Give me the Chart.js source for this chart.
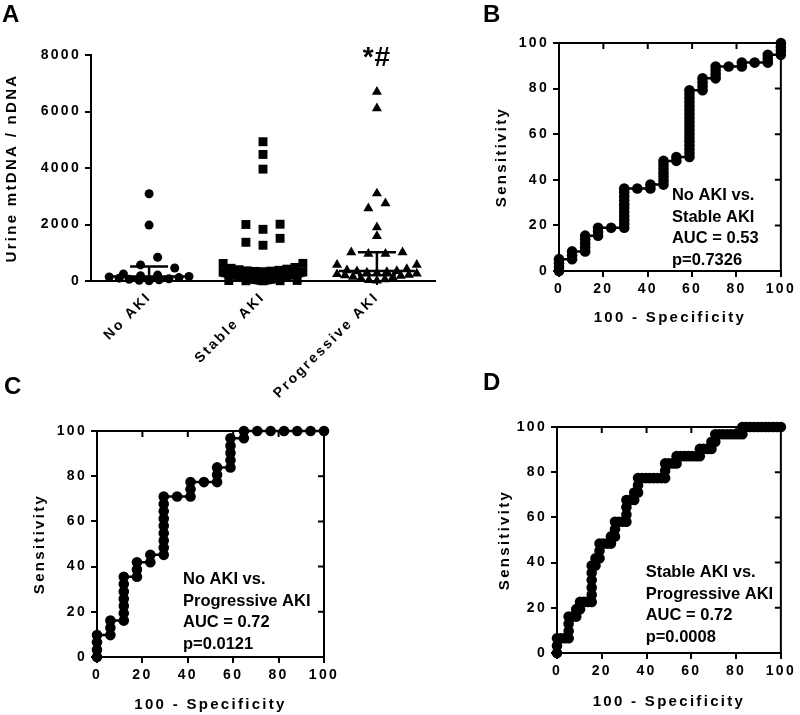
<!DOCTYPE html>
<html>
<head>
<meta charset="utf-8">
<script src="https://cdn.jsdelivr.net/npm/chart.js@4.4.1/dist/chart.umd.min.js"></script>
<style>
html, body { margin: 0; padding: 0; background: #fff; }
#wrap { position: relative; width: 800px; height: 715px; overflow: hidden; }
canvas { position: absolute; }
.lbl { position: absolute; font: bold 24px 'Liberation Sans', Arial, sans-serif; color: #000; line-height: 1; }
</style>
</head>
<body>
<div id="wrap">
  <canvas id="panelA" width="440" height="420" style="left:0;top:0"></canvas>
  <canvas id="panelB" width="360" height="330" style="left:440px;top:0"></canvas>
  <canvas id="panelC" width="400" height="325" style="left:0;top:390px"></canvas>
  <canvas id="panelD" width="400" height="325" style="left:400px;top:390px"></canvas>
  <div class="lbl" style="left:2px;top:2px">A</div>
  <div class="lbl" style="left:483px;top:2px">B</div>
  <div class="lbl" style="left:4px;top:374px">C</div>
  <div class="lbl" style="left:483px;top:370px">D</div>
</div>
<script>
// ── Data: panel A (urine mtDNA / nDNA per patient) ─────────────
const groupLabels = ['No AKI', 'Stable AKI', 'Progressive AKI'];
const noAki = [3090, 1980, 840, 570, 460, 250, 210, 190, 160, 140, 120, 100, 80, 60, 40, 25, 10];
const stableAki = [4930, 4480, 3960, 2010, 2000, 1830, 1510, 1370, 1265, 625, 620,
  480, 450, 420, 400, 380, 360, 350, 340, 330, 320, 310, 300, 290, 280, 270, 260, 250, 240,
  230, 220, 210, 200, 190, 180, 170, 160, 150, 140, 130, 120, 110, 100, 90, 80, 70, 60, 50,
  45, 40, 35, 30, 25, 20, 15, 10, 8, 5];
const progressiveAki = [6700, 6110, 3100, 2750, 2570, 1900, 1590, 1015, 1015, 960, 960, 570, 570,
  420, 380, 350, 340, 320, 300, 280, 260, 240, 220, 200, 180, 150, 120, 90, 60, 30, 10];
const yTicksA = [0, 2000, 4000, 6000, 8000];

// ── Data: ROC curves [100 - specificity, sensitivity] ──────────
const rocTicks = [0, 20, 40, 60, 80, 100];
const rocB = [
  [0, 0], [0, 1.7], [0, 3.4], [0, 5.2],
  [5.9, 5.2], [5.9, 6.9], [5.9, 8.6],
  [11.8, 8.6], [11.8, 10.3], [11.8, 12.1], [11.8, 13.8], [11.8, 15.5],
  [17.6, 15.5], [17.6, 17.2], [17.6, 19.0],
  [23.5, 19.0],
  [29.4, 19.0], [29.4, 20.7], [29.4, 22.4], [29.4, 24.1], [29.4, 25.9], [29.4, 27.6],
  [29.4, 29.3], [29.4, 31.0], [29.4, 32.8], [29.4, 34.5], [29.4, 36.2],
  [35.3, 36.2],
  [41.2, 36.2], [41.2, 37.9],
  [47.1, 37.9], [47.1, 39.7], [47.1, 41.4], [47.1, 43.1], [47.1, 44.8], [47.1, 46.6], [47.1, 48.3],
  [52.9, 48.3], [52.9, 50.0],
  [58.8, 50.0], [58.8, 51.7], [58.8, 53.4], [58.8, 55.2], [58.8, 56.9], [58.8, 58.6],
  [58.8, 60.3], [58.8, 62.1], [58.8, 63.8], [58.8, 65.5], [58.8, 67.2], [58.8, 69.0],
  [58.8, 70.7], [58.8, 72.4], [58.8, 74.1], [58.8, 75.9], [58.8, 77.6], [58.8, 79.3],
  [64.7, 79.3], [64.7, 81.0], [64.7, 82.8], [64.7, 84.5],
  [70.6, 84.5], [70.6, 86.2], [70.6, 87.9], [70.6, 89.7],
  [76.5, 89.7],
  [82.4, 89.7], [82.4, 91.4],
  [88.2, 91.4],
  [94.1, 91.4], [94.1, 93.1], [94.1, 94.8],
  [100, 94.8], [100, 96.6], [100, 98.3], [100, 100]
];
const rocC = [
  [0, 0], [0, 3.2], [0, 6.5], [0, 9.7],
  [5.9, 9.7], [5.9, 12.9], [5.9, 16.1],
  [11.8, 16.1], [11.8, 19.4], [11.8, 22.6], [11.8, 25.8], [11.8, 29.0], [11.8, 32.3], [11.8, 35.5],
  [17.6, 35.5], [17.6, 38.7], [17.6, 41.9],
  [23.5, 41.9], [23.5, 45.2],
  [29.4, 45.2], [29.4, 48.4], [29.4, 51.6], [29.4, 54.8], [29.4, 58.1], [29.4, 61.3],
  [29.4, 64.5], [29.4, 67.7], [29.4, 71.0],
  [35.3, 71.0],
  [41.2, 71.0], [41.2, 74.2], [41.2, 77.4],
  [47.1, 77.4],
  [52.9, 77.4], [52.9, 80.6], [52.9, 83.9],
  [58.8, 83.9], [58.8, 87.1], [58.8, 90.3], [58.8, 93.5], [58.8, 96.8],
  [64.7, 96.8], [64.7, 100],
  [70.6, 100], [76.5, 100], [82.4, 100], [88.2, 100], [94.1, 100], [100, 100]
];
const rocD = [
  [0, 0], [0, 3.2], [0, 6.5],
  [1.7, 6.5], [3.4, 6.5], [5.2, 6.5],
  [5.2, 9.7], [5.2, 12.9], [5.2, 16.1],
  [6.9, 16.1], [8.6, 16.1],
  [8.6, 19.4],
  [10.3, 19.4], [10.3, 22.6],
  [12.1, 22.6], [13.8, 22.6], [15.5, 22.6],
  [15.5, 25.8], [15.5, 29.0], [15.5, 32.3], [15.5, 35.5], [15.5, 38.7],
  [17.2, 38.7], [17.2, 41.9],
  [19.0, 41.9], [19.0, 45.2], [19.0, 48.4],
  [20.7, 48.4], [22.4, 48.4], [24.1, 48.4],
  [24.1, 51.6],
  [25.9, 51.6], [25.9, 54.8], [25.9, 58.1],
  [27.6, 58.1], [29.3, 58.1], [31.0, 58.1],
  [31.0, 61.3], [31.0, 64.5], [31.0, 67.7],
  [32.8, 67.7],
  [34.5, 67.7], [34.5, 71.0],
  [36.2, 71.0], [36.2, 74.2], [36.2, 77.4],
  [37.9, 77.4], [39.7, 77.4], [41.4, 77.4], [43.1, 77.4], [44.8, 77.4], [46.6, 77.4], [48.3, 77.4],
  [48.3, 80.6], [48.3, 83.9],
  [50.0, 83.9], [51.7, 83.9], [53.4, 83.9],
  [53.4, 87.1],
  [55.2, 87.1], [56.9, 87.1], [58.6, 87.1], [60.3, 87.1], [62.1, 87.1], [63.8, 87.1],
  [63.8, 90.3],
  [65.5, 90.3], [67.2, 90.3], [69.0, 90.3],
  [69.0, 93.5],
  [70.7, 93.5], [70.7, 96.8],
  [72.4, 96.8], [74.1, 96.8], [75.9, 96.8], [77.6, 96.8], [79.3, 96.8], [81.0, 96.8], [82.8, 96.8],
  [82.8, 100],
  [84.5, 100], [86.2, 100], [87.9, 100], [89.7, 100], [91.4, 100], [93.1, 100], [94.8, 100],
  [96.6, 100], [98.3, 100], [100, 100]
];
const noteB = ['No AKI vs.', 'Stable AKI', 'AUC = 0.53', 'p=0.7326'];
const noteC = ['No AKI vs.', 'Progressive AKI', 'AUC = 0.72', 'p=0.0121'];
const noteD = ['Stable AKI vs.', 'Progressive AKI', 'AUC = 0.72', 'p=0.0008'];

// ── Helpers ────────────────────────────────────────────────────
const FAMILY = "'Liberation Sans', Arial, sans-serif";
const tickFont = { family: FAMILY, size: 14, weight: 'bold' };
const titleFont = { family: FAMILY, size: 15, weight: 'bold' };

// GraphPad-style scatter spread: values in the same band are laid out side by side
function swarm(values, center) {
  const sorted = values.slice().sort((a, b) => b - a);
  const out = [];
  let i = 0;
  while (i < sorted.length) {
    const band = [sorted[i]];
    let j = i + 1;
    while (j < sorted.length && sorted[i] - sorted[j] < 300) band.push(sorted[j++]);
    band.reverse();
    const k = band.length;
    const step = k > 1 ? Math.min(0.15, 0.7 / (k - 1)) : 0;
    const mid = (k - 1) / 2;
    const slots = [...Array(k).keys()].sort((a, b) => Math.abs(a - mid) - Math.abs(b - mid) || a - b);
    band.forEach((v, n) => out.push({ x: center + (slots[n] - mid) * step, y: v }));
    i = j;
  }
  return out;
}

function quantile(values, p) {
  const s = values.slice().sort((a, b) => a - b);
  const r = Math.min(Math.max(p * (s.length + 1) - 1, 0), s.length - 1);
  const lo = Math.floor(r), hi = Math.ceil(r);
  return s[lo] + (s[hi] - s[lo]) * (r - lo);
}

// letter-spaced axis text like the original figure
const spacing = {
  id: 'spacing',
  beforeLayout(c) { c.ctx.letterSpacing = '2.3px'; },
  beforeDraw(c) { c.ctx.letterSpacing = '2.3px'; }
};

function axisBase(fitKey, fitVal, tickVals, extra) {
  return Object.assign({
    type: 'linear',
    afterBuildTicks: s => { s.ticks = tickVals.map(v => ({ value: v })); },
    afterFit: s => { s[fitKey] = fitVal; },
    ticks: { font: tickFont, color: '#000', padding: 4, autoSkip: false, maxRotation: 0, callback: v => String(v) },
    grid: { drawOnChartArea: false, color: '#000', lineWidth: 2, tickLength: 6 },
    border: { color: '#000', width: 2 }
  }, extra);
}

// ── Panel A: scatter with median + IQR ─────────────────────────
const errorBars = {
  id: 'errorBars',
  afterDatasetsDraw(c) {
    const { ctx, scales: { x, y }, chartArea } = c;
    ctx.save();
    ctx.strokeStyle = '#000';
    ctx.lineWidth = 2.5;
    [noAki, stableAki, progressiveAki].forEach((vals, i) => {
      const cx = x.getPixelForValue(i + 1);
      const med = y.getPixelForValue(quantile(vals, 0.5));
      const q1 = y.getPixelForValue(quantile(vals, 0.25));
      const q3 = y.getPixelForValue(quantile(vals, 0.75));
      ctx.beginPath();
      ctx.moveTo(cx - 38, med); ctx.lineTo(cx + 38, med);
      ctx.moveTo(cx - 19, q3); ctx.lineTo(cx + 19, q3);
      ctx.moveTo(cx - 19, q1); ctx.lineTo(cx + 19, q1);
      ctx.moveTo(cx, q1); ctx.lineTo(cx, q3);
      ctx.stroke();
    });
    ctx.letterSpacing = '1px';
    ctx.fillStyle = '#000';
    ctx.font = 'bold 28px ' + FAMILY;
    ctx.textAlign = 'center';
    ctx.textBaseline = 'alphabetic';
    ctx.fillText('*#', x.getPixelForValue(3), chartArea.top + 11);
    ctx.restore();
  }
};

new Chart(document.getElementById('panelA'), {
  type: 'scatter',
  data: {
    datasets: [
      { data: swarm(noAki, 1), pointStyle: 'circle', pointRadius: 4.5, backgroundColor: '#000', borderColor: '#000', borderWidth: 0, clip: false },
      { data: swarm(stableAki, 2), pointStyle: 'rect', pointRadius: 6.3, backgroundColor: '#000', borderColor: '#000', borderWidth: 0, clip: false },
      { data: swarm(progressiveAki, 3), pointStyle: 'triangle', pointRadius: 5.8, backgroundColor: '#000', borderColor: '#000', borderWidth: 0, clip: false }
    ]
  },
  options: {
    responsive: false, animation: false, events: [],
    layout: { autoPadding: false, padding: { left: 0, top: 55, right: 5, bottom: 0 } },
    plugins: { legend: { display: false }, tooltip: { enabled: false } },
    scales: {
      x: axisBase('height', 139, [1, 2, 3], {
        min: 0.49, max: 3.51,
        ticks: { font: tickFont, color: '#000', padding: 4, autoSkip: false, minRotation: 45, maxRotation: 45, callback: v => groupLabels[v - 1] },
        grid: { drawOnChartArea: false, color: '#000', lineWidth: 2, tickLength: 4 }
      }),
      y: axisBase('width', 91, yTicksA, {
        min: 0, max: 8000,
        title: { display: true, text: 'Urine mtDNA / nDNA', color: '#000', font: { family: FAMILY, size: 15, weight: 'bold' }, padding: { top: 3, bottom: 0 } }
      })
    }
  },
  plugins: [spacing, errorBars]
});

// ── Panels B-D: ROC curves ─────────────────────────────────────
function rocChart(id, points, note, box) {
  const extras = {
    id: 'extras_' + id,
    beforeDatasetsDraw(c) {
      const { ctx, chartArea: a, scales: { x, y } } = c;
      ctx.save();
      ctx.strokeStyle = '#000';
      ctx.lineWidth = 2;
      ctx.beginPath();
      ctx.moveTo(a.left, a.top); ctx.lineTo(a.right, a.top); ctx.lineTo(a.right, a.bottom);
      rocTicks.slice(1, -1).forEach(v => {
        const px = x.getPixelForValue(v), py = y.getPixelForValue(v);
        ctx.moveTo(px, a.top); ctx.lineTo(px, a.top + 6);
        ctx.moveTo(a.right, py); ctx.lineTo(a.right - 6, py);
      });
      ctx.stroke();
      ctx.restore();
    },
    afterDraw(c) {
      const { ctx, scales: { x, y } } = c;
      ctx.save();
      ctx.letterSpacing = '0px';
      ctx.fillStyle = '#000';
      ctx.font = 'bold 16.5px ' + FAMILY;
      ctx.textAlign = 'left';
      ctx.textBaseline = 'alphabetic';
      const left = x.getPixelForValue(box.noteX);
      const top = y.getPixelForValue(box.noteY);
      note.forEach((line, i) => ctx.fillText(line, left, top + i * 21.5));
      ctx.restore();
    }
  };
  return new Chart(document.getElementById(id), {
    type: 'scatter',
    data: {
      datasets: [{
        data: points.map(([x, y]) => ({ x, y })),
        showLine: true, borderColor: '#000', borderWidth: 2.5,
        pointRadius: 5.3, pointBackgroundColor: '#000', pointBorderWidth: 0, clip: false
      }]
    },
    options: {
      responsive: false, animation: false, events: [],
      layout: { autoPadding: false, padding: { left: box.padLeft, top: box.top, right: box.padRight, bottom: 0 } },
      plugins: { legend: { display: false }, tooltip: { enabled: false } },
      scales: {
        x: axisBase('height', box.xHeight, rocTicks, {
          min: 0, max: 100,
          title: { display: true, text: '100 - Specificity', color: '#000', font: titleFont, padding: { top: 0, bottom: box.titleBottom } }
        }),
        y: axisBase('width', box.yWidth, rocTicks, {
          min: 0, max: 100,
          title: { display: true, text: 'Sensitivity', color: '#000', font: titleFont, padding: { top: 3, bottom: 0 } }
        })
      }
    },
    plugins: [spacing, extras]
  });
}

rocChart('panelB', rocB, noteB, { padLeft: 50, yWidth: 69, top: 43, padRight: 13, xHeight: 59, titleBottom: 3, noteX: 50.9, noteY: 31.1 });
rocChart('panelC', rocC, noteC, { padLeft: 28, yWidth: 69, top: 41, padRight: 76, xHeight: 58, titleBottom: 1, noteX: 37.9, noteY: 32.3 });
rocChart('panelD', rocD, noteD, { padLeft: 93, yWidth: 64, top: 37, padRight: 13, xHeight: 62, titleBottom: 4, noteX: 39.6, noteY: 33.6 });
</script>
</body>
</html>
